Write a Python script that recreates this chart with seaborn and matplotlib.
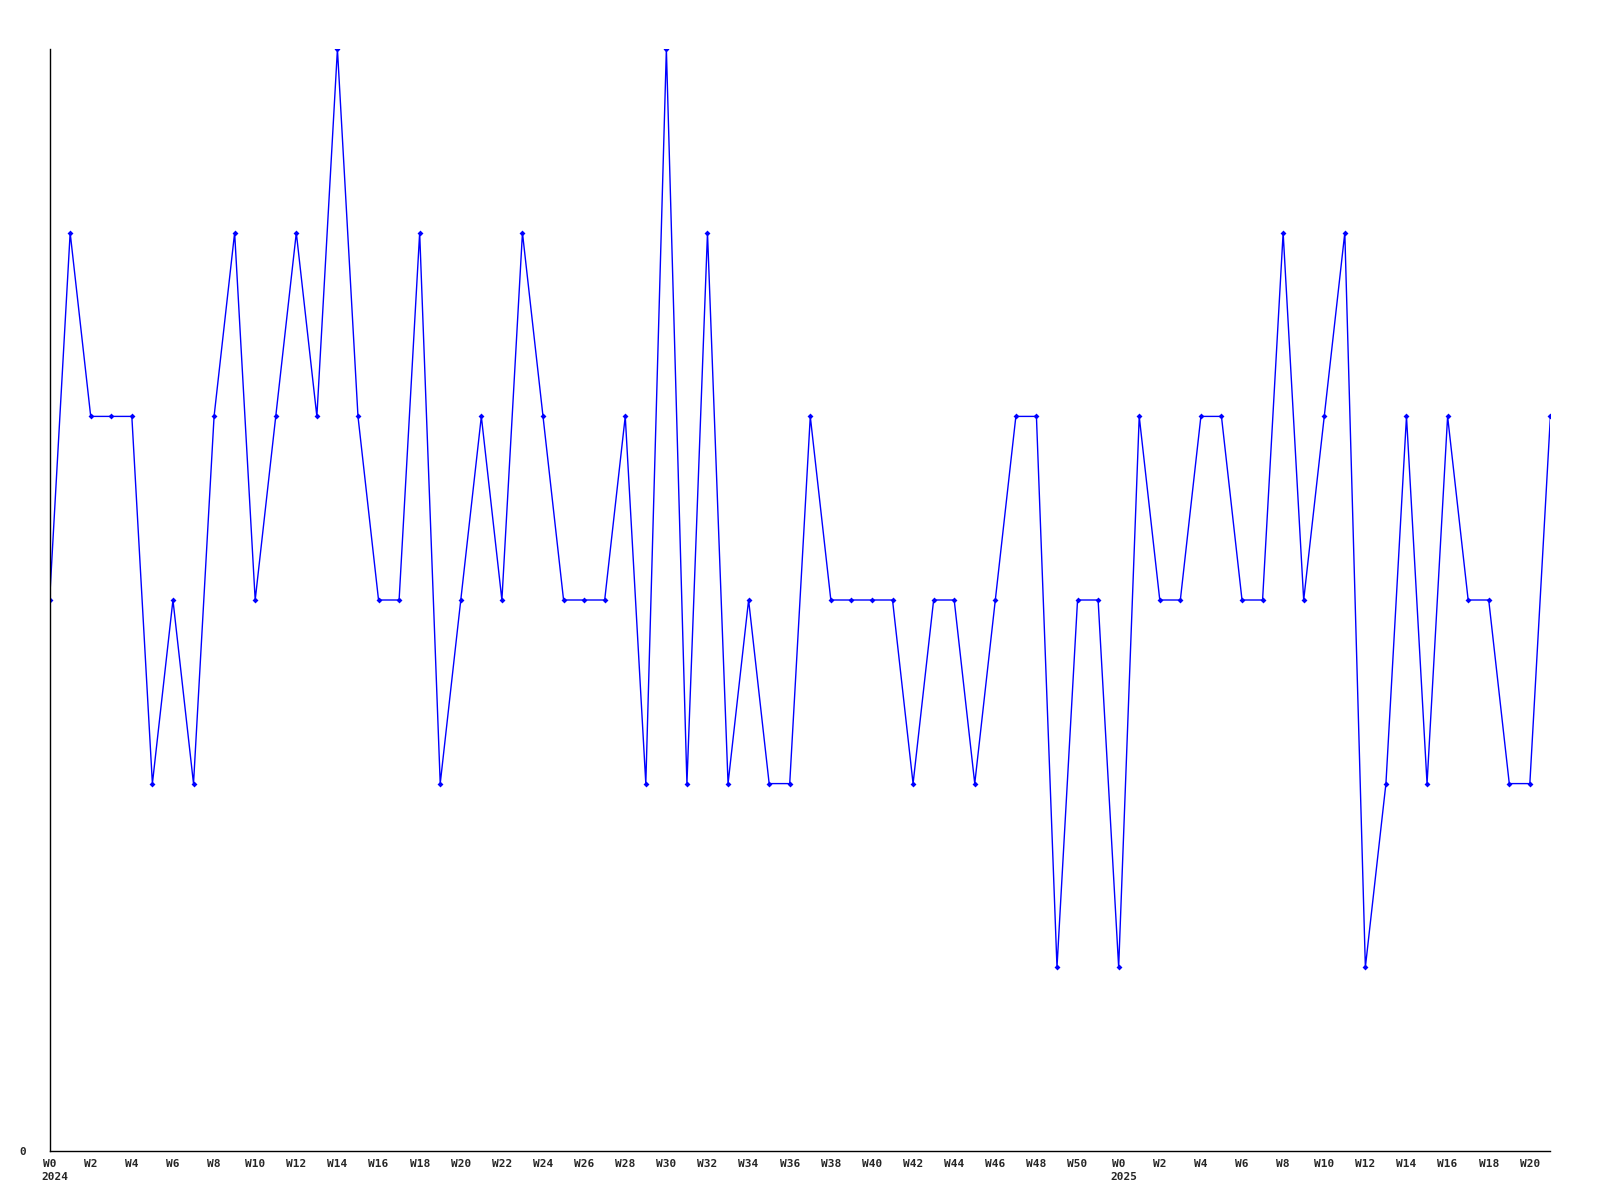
import matplotlib
matplotlib.use("Agg")
import matplotlib.pyplot as plt
import pandas as pd
import seaborn as sns

# weekly counts, 2024 W0 .. 2025 W21
years = [2024] * 52 + [2025] * 22
weeks = list(range(52)) + list(range(22))
counts = [3, 5, 4, 4, 4, 2, 3, 2, 4, 5,
          3, 4, 5, 4, 6, 4, 3, 3, 5, 2,
          3, 4, 3, 5, 4, 3, 3, 3, 4, 2,
          6, 2, 5, 2, 3, 2, 2, 4, 3, 3,
          3, 3, 2, 3, 3, 2, 3, 4, 4, 1,
          3, 3, 1, 4, 3, 3, 4, 4, 3, 3,
          5, 3, 4, 5, 1, 2, 4, 2, 4, 3,
          3, 2, 2, 4]

df = pd.DataFrame({'year': years, 'week': weeks, 'count': counts})
df['idx'] = range(len(df))

sns.set_style("white")
plt.rcParams['font.family'] = ['DejaVu Sans Mono']
plt.rcParams['font.weight'] = 'bold'

fig = plt.figure(figsize=(16, 12), dpi=100)
ax = fig.add_axes([0.031, 0.041, 0.938, 0.918])

sns.lineplot(data=df, x='idx', y='count', ax=ax, color='#0000ff', linewidth=1,
             marker='D', markersize=3, markeredgewidth=0, markerfacecolor='#0000ff')

ax.set_xlim(0, len(df) - 1)
ax.set_ylim(0, 6)
ax.set_xlabel('')
ax.set_ylabel('')

# tick every second week
ticks = []
labels = []
for i, row in df.iterrows():
    if row['week'] % 2 == 0 and i < len(df) - 1:
        ticks.append(i)
        labels.append('W%d' % row['week'])
ax.set_xticks(ticks)
ax.set_xticklabels(labels, fontsize=8, fontweight='bold', ha='center')

# year under the first week of each year
for i, row in df[df['week'] == 0].iterrows():
    ax.annotate(str(row['year']), xy=(i, 0), xycoords=('data', 'axes fraction'),
                xytext=(-6, -19), textcoords='offset points',
                ha='left', va='center', fontsize=8, fontweight='bold')

ax.set_yticks([0])
ax.set_yticklabels(['0'], fontsize=8, fontweight='bold')
ax.tick_params(axis='both', length=0)
ax.tick_params(axis='x', pad=6)
ax.tick_params(axis='y', pad=17)

sns.despine(ax=ax)
for s in ['left', 'bottom']:
    ax.spines[s].set_color('black')
    ax.spines[s].set_linewidth(1)
ax.grid(False)

fig.savefig('out.png', dpi=100)
